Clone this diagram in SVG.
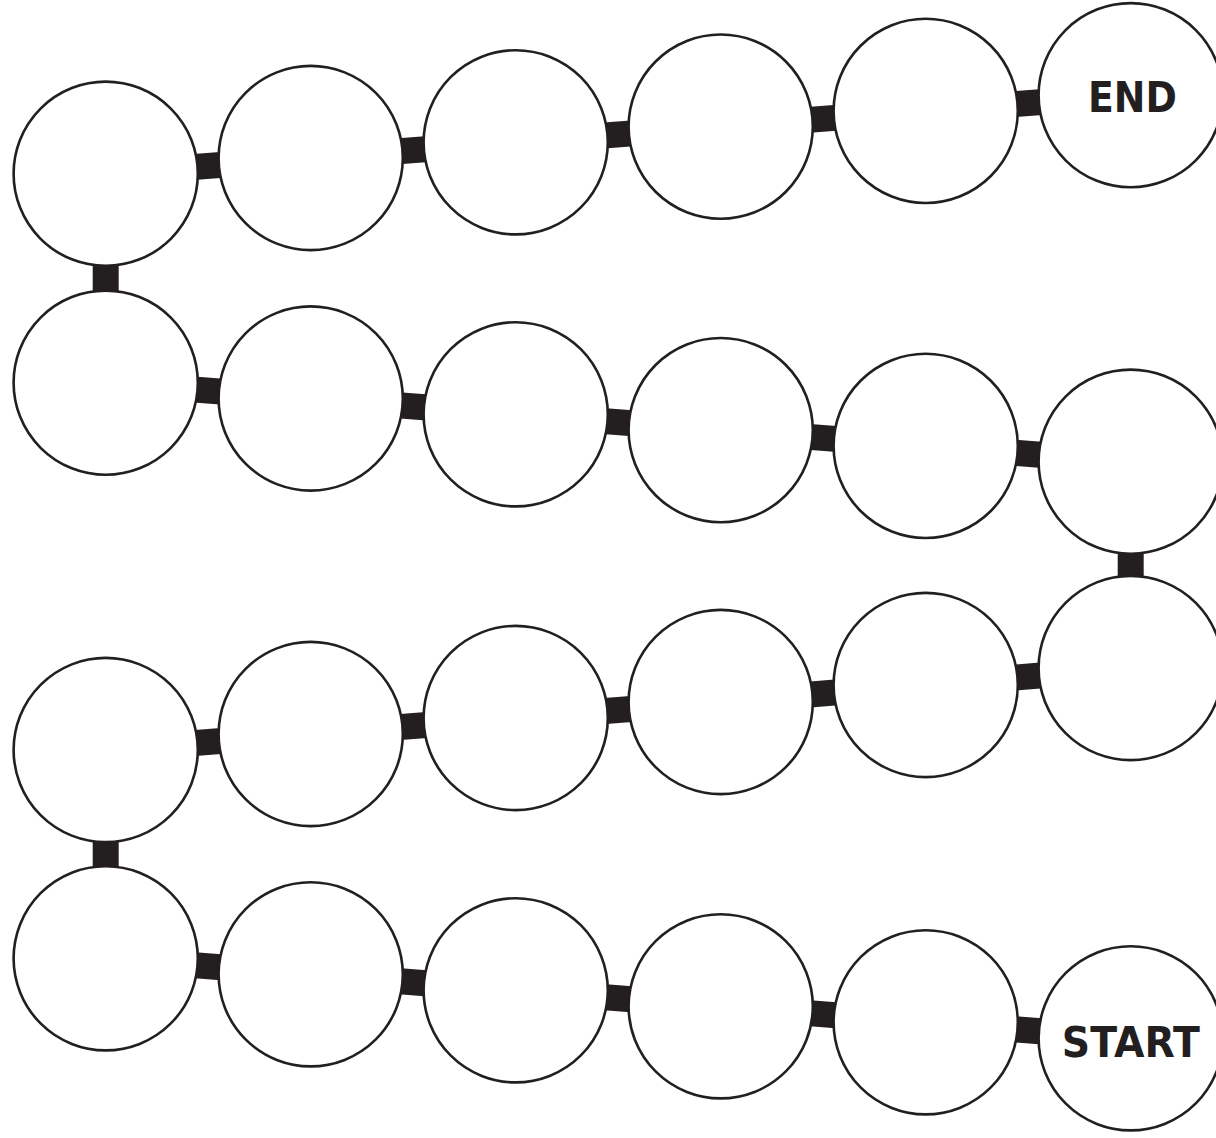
<svg xmlns="http://www.w3.org/2000/svg" width="1216" height="1138" viewBox="0 0 1216 1138">
<style>
.n{fill:#fff;stroke:#231f20;stroke-width:2.6}
.c line{stroke:#231f20;stroke-width:26}
.t{font-family:"DejaVu Sans","Liberation Sans",sans-serif;font-weight:bold;font-size:43.5px;fill:#231f20;text-anchor:middle}
</style>
<rect width="1216" height="1138" fill="#fff"/>
<g id="connectors" class="c">
<line x1="105.7" y1="173.7" x2="310.7" y2="158"/>
<line x1="310.7" y1="158" x2="515.7" y2="142.3"/>
<line x1="515.7" y1="142.3" x2="720.7" y2="126.6"/>
<line x1="720.7" y1="126.6" x2="925.7" y2="110.9"/>
<line x1="925.7" y1="110.9" x2="1130.7" y2="95.2"/>
<line x1="105.7" y1="173.7" x2="105.7" y2="382.7"/>
<line x1="105.7" y1="382.7" x2="310.7" y2="398.5"/>
<line x1="310.7" y1="398.5" x2="515.7" y2="414.3"/>
<line x1="515.7" y1="414.3" x2="720.7" y2="430.1"/>
<line x1="720.7" y1="430.1" x2="925.7" y2="445.9"/>
<line x1="925.7" y1="445.9" x2="1130.7" y2="461.7"/>
<line x1="1130.7" y1="461.7" x2="1130.7" y2="668"/>
<line x1="105.7" y1="750" x2="310.7" y2="734"/>
<line x1="310.7" y1="734" x2="515.7" y2="718"/>
<line x1="515.7" y1="718" x2="720.7" y2="702"/>
<line x1="720.7" y1="702" x2="925.7" y2="685"/>
<line x1="925.7" y1="685" x2="1130.7" y2="668"/>
<line x1="105.7" y1="750" x2="105.7" y2="958.3"/>
<line x1="105.7" y1="958.3" x2="310.7" y2="974.3"/>
<line x1="310.7" y1="974.3" x2="515.7" y2="990.3"/>
<line x1="515.7" y1="990.3" x2="720.7" y2="1006.3"/>
<line x1="720.7" y1="1006.3" x2="925.7" y2="1022.3"/>
<line x1="925.7" y1="1022.3" x2="1130.7" y2="1038.3"/>
</g>
<g id="r1c1"><circle class="n" cx="105.7" cy="173.7" r="92.1"/></g>
<g id="r1c2"><circle class="n" cx="310.7" cy="158" r="92.1"/></g>
<g id="r1c3"><circle class="n" cx="515.7" cy="142.3" r="92.1"/></g>
<g id="r1c4"><circle class="n" cx="720.7" cy="126.6" r="92.1"/></g>
<g id="r1c5"><circle class="n" cx="925.7" cy="110.9" r="92.1"/></g>
<g id="end"><circle class="n" cx="1130.7" cy="95.2" r="92.1"/><text class="t" x="1132.5" y="111.7" textLength="89" lengthAdjust="spacingAndGlyphs">END</text></g>
<g id="r2c1"><circle class="n" cx="105.7" cy="382.7" r="92.1"/></g>
<g id="r2c2"><circle class="n" cx="310.7" cy="398.5" r="92.1"/></g>
<g id="r2c3"><circle class="n" cx="515.7" cy="414.3" r="92.1"/></g>
<g id="r2c4"><circle class="n" cx="720.7" cy="430.1" r="92.1"/></g>
<g id="r2c5"><circle class="n" cx="925.7" cy="445.9" r="92.1"/></g>
<g id="r2c6"><circle class="n" cx="1130.7" cy="461.7" r="92.1"/></g>
<g id="r3c1"><circle class="n" cx="105.7" cy="750" r="92.1"/></g>
<g id="r3c2"><circle class="n" cx="310.7" cy="734" r="92.1"/></g>
<g id="r3c3"><circle class="n" cx="515.7" cy="718" r="92.1"/></g>
<g id="r3c4"><circle class="n" cx="720.7" cy="702" r="92.1"/></g>
<g id="r3c5"><circle class="n" cx="925.7" cy="685" r="92.1"/></g>
<g id="r3c6"><circle class="n" cx="1130.7" cy="668" r="92.1"/></g>
<g id="r4c1"><circle class="n" cx="105.7" cy="958.3" r="92.1"/></g>
<g id="r4c2"><circle class="n" cx="310.7" cy="974.3" r="92.1"/></g>
<g id="r4c3"><circle class="n" cx="515.7" cy="990.3" r="92.1"/></g>
<g id="r4c4"><circle class="n" cx="720.7" cy="1006.3" r="92.1"/></g>
<g id="r4c5"><circle class="n" cx="925.7" cy="1022.3" r="92.1"/></g>
<g id="start"><circle class="n" cx="1130.7" cy="1038.3" r="92.1"/><text class="t" x="1130.8" y="1056.7" textLength="138" lengthAdjust="spacingAndGlyphs">START</text></g>
</svg>
